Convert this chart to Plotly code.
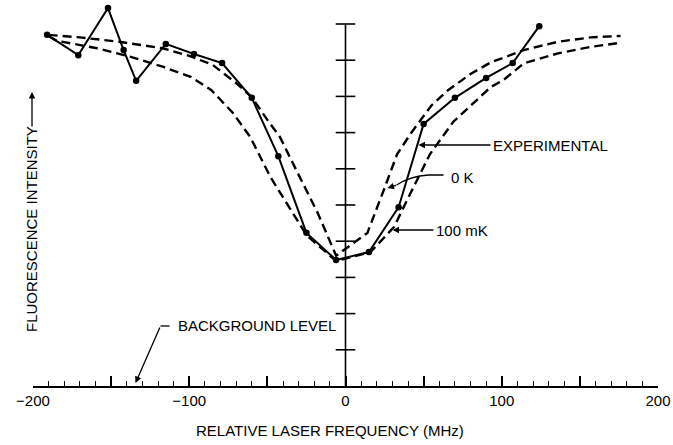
import plotly.graph_objects as go

# ---- data ----
exp_freq = [-191, -171, -152, -142, -134, -115, -97, -79, -60, -43, -25, -6, 15, 34, 50, 70, 90, 107, 124]
exp_int = [9.70, 9.14, 10.44, 9.28, 8.43, 9.45, 9.17, 8.92, 7.96, 6.35, 4.23, 3.48, 3.70, 4.94, 7.24, 7.96, 8.51, 8.92, 9.94]

k0_freq = [-190, -170, -145, -117, -100, -85, -70, -60, -50, -42, -31, -18, -6, 14, 25, 33, 42, 48, 55, 65, 80, 93, 114, 136, 157, 176]
k0_int = [9.70, 9.63, 9.51, 9.33, 9.12, 8.87, 8.37, 7.98, 7.35, 6.88, 5.92, 4.80, 3.60, 4.23, 5.47, 6.40, 6.99, 7.35, 7.75, 8.15, 8.62, 8.94, 9.28, 9.51, 9.63, 9.67]

mk100_freq = [-190, -185, -159, -138, -117, -99, -86, -72, -61, -48, -25, -6, 16, 31, 43, 54, 69, 80, 93, 101, 114, 136, 157, 176]
mk100_int = [9.66, 9.54, 9.33, 9.10, 8.82, 8.54, 8.18, 7.54, 6.88, 5.77, 4.17, 3.45, 3.70, 4.39, 5.45, 6.40, 7.30, 7.75, 8.26, 8.45, 8.91, 9.19, 9.37, 9.48]

x_tick_vals = [-200, -150, -100, -50, 0, 50, 100, 150, 200]
x_tick_text = ["\u2212200", "", "\u2212100", "", "0", "", "100", "", "200"]
y_tick_vals = [1, 2, 3, 4, 5, 6, 7, 8, 9, 10]

FONT = "Liberation Sans, Arial, Helvetica, sans-serif"

fig = go.Figure()

# vertical intensity axis at zero frequency
fig.add_trace(go.Scatter(x=[0, 0], y=[0, max(y_tick_vals)], mode="lines",
                         line=dict(color="black", width=1.6), hoverinfo="skip", showlegend=False))
fig.add_trace(go.Scatter(x=[0] * len(y_tick_vals), y=y_tick_vals, mode="markers",
                         marker=dict(symbol="line-ew", size=14, line=dict(color="black", width=1.6)),
                         hoverinfo="skip", showlegend=False))

dash = "9px,5px"
fig.add_trace(go.Scatter(x=k0_freq, y=k0_int, mode="lines", name="0 K",
                         line=dict(color="black", width=2.4, dash=dash), showlegend=False))
fig.add_trace(go.Scatter(x=mk100_freq, y=mk100_int, mode="lines", name="100 mK",
                         line=dict(color="black", width=2.4, dash=dash), showlegend=False))
fig.add_trace(go.Scatter(x=exp_freq, y=exp_int, mode="lines+markers", name="Experimental",
                         line=dict(color="black", width=2),
                         marker=dict(color="black", size=6.5), showlegend=False))

# pixel helpers (plot area: x 33..658, y 2..386)
X0, XS = 345.0, 1.5625   # px of 0 MHz, px per MHz
Y0, YS = 386.0, 36.2     # px of intensity 0, px per unit
L, T, W, H = 33.0, 2.0, 625.0, 384.0


def dx(px):
    return (px - X0) / XS


def dy(py):
    return (Y0 - py) / YS


def px_(px):
    return (px - L) / W


def py_(py):
    return (T + H - py) / H


ann_font = dict(family=FONT, size=15, color="black")
arrow = dict(showarrow=True, arrowhead=2, arrowsize=1, arrowwidth=1.3, arrowcolor="black")
annotations = [
    dict(x=dx(418), y=dy(145), ax=72, ay=0, text="EXPERIMENTAL", xanchor="left", font=ann_font, **arrow),
    # 0 K: text + arrowhead at the end of a curved leader
    dict(x=dx(448), y=dy(177), text="0 K", xanchor="left", yanchor="middle", showarrow=False, font=ann_font),
    dict(x=dx(387), y=dy(188), ax=10, ay=-3, text="", font=ann_font, standoff=0, **arrow),
    dict(x=dx(392), y=dy(230), ax=41, ay=0, text="100 mK", xanchor="left", font=ann_font, **arrow),
    # background level
    dict(x=dx(175), y=dy(325), text="BACKGROUND LEVEL", xanchor="left", yanchor="middle",
         showarrow=False, font=ann_font),
    dict(x=dx(135), y=dy(383), ax=25, ay=-57, text="", standoff=0, **arrow),
    # axis titles
    dict(x=px_(330), y=py_(430), xref="paper", yref="paper", xanchor="center", yanchor="middle",
         text="RELATIVE LASER FREQUENCY (MHz)", showarrow=False, font=ann_font),
    dict(x=px_(32), y=py_(229), xref="paper", yref="paper", xanchor="center", yanchor="middle",
         text="FLUORESCENCE INTENSITY", textangle=-90, showarrow=False, font=ann_font),
    dict(x=px_(32), y=py_(92), xref="paper", yref="paper", ax=0, ay=36, text="", standoff=0, **arrow),
]

shapes = [
    # curved leader for "0 K"
    dict(type="path", xref="x", yref="y", line=dict(color="black", width=1.3),
         path=f"M {dx(443)},{dy(175)} L {dx(428)},{dy(175)} Q {dx(410)},{dy(176)} {dx(396)},{dy(185)}"),
    # small horizontal hook of the background-level leader
    dict(type="line", xref="x", yref="y", x0=dx(160), y0=dy(326), x1=dx(169), y1=dy(326),
         line=dict(color="black", width=1.3)),
]

fig.update_layout(
    width=673, height=445,
    margin=dict(l=33, r=15, t=2, b=59),
    paper_bgcolor="white", plot_bgcolor="white",
    font=dict(family=FONT, size=15, color="black"),
    showlegend=False,
    annotations=annotations,
    shapes=shapes,
    xaxis=dict(range=[-200, 200], showgrid=False, zeroline=False,
               showline=True, linecolor="black", linewidth=1.6,
               ticks="inside", ticklen=10, tickwidth=1.5, tickcolor="black",
               tickvals=x_tick_vals, ticktext=x_tick_text,
               tickfont=dict(family=FONT, size=15, color="black"),
               minor=dict(dtick=10, tick0=0, ticks="inside", ticklen=5, tickwidth=1.3, tickcolor="black"),
               fixedrange=True),
    yaxis=dict(range=[0, 384 / 36.2], visible=False, fixedrange=True),
)

fig.write_html("out.html")
